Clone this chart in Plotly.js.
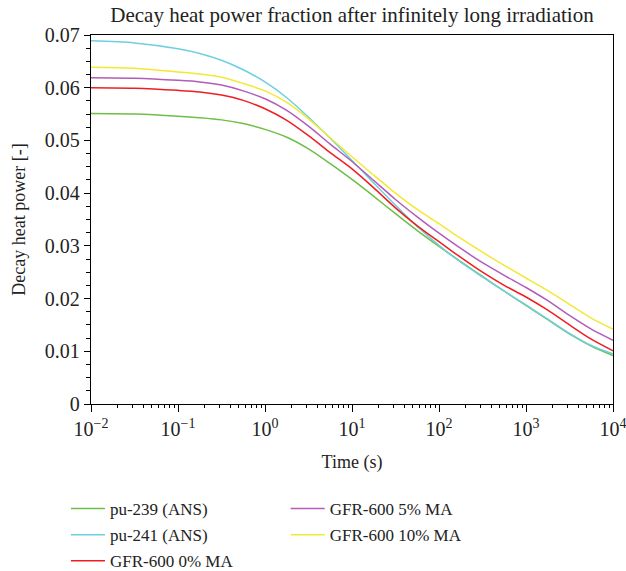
<!DOCTYPE html>
<html>
<head>
<meta charset="utf-8">
<script src="https://cdn.plot.ly/plotly-3.0.1.min.js"></script>
<style>html,body{margin:0;padding:0;background:#fff;}#chart{width:626px;height:571px;}</style>
</head>
<body>
<div id="chart"></div>
<script>
// Time after shutdown (s)
const time = [0.01, 0.0316, 0.1, 0.178, 0.316, 0.562, 1, 1.78, 3.16, 5.62, 10, 17.8, 31.6, 56.2, 100, 178, 316, 562, 1000, 1780, 3160, 5620, 10000];
// Decay heat power fraction [-]
const pu239 = [0.0551, 0.0550, 0.0546, 0.0543, 0.0539, 0.0532, 0.0521, 0.0506, 0.0484, 0.0456, 0.0426, 0.0394, 0.0361, 0.0329, 0.0299, 0.0270, 0.0242, 0.0214, 0.0187, 0.0160, 0.0133, 0.0110, 0.0092];
const pu241 = [0.0689, 0.0685, 0.0674, 0.0665, 0.0652, 0.0634, 0.0611, 0.0581, 0.0544, 0.0504, 0.0462, 0.0419, 0.0377, 0.0337, 0.0301, 0.0269, 0.0241, 0.0214, 0.0188, 0.0161, 0.0134, 0.0111, 0.0095];
const gfr0 = [0.0600, 0.0599, 0.0595, 0.0592, 0.0586, 0.0576, 0.0560, 0.0538, 0.0509, 0.0477, 0.0446, 0.0410, 0.0372, 0.0338, 0.0308, 0.0278, 0.0250, 0.0225, 0.0203, 0.0178, 0.0150, 0.0123, 0.0101];
const gfr5 = [0.0619, 0.0618, 0.0614, 0.0611, 0.0605, 0.0594, 0.0579, 0.0557, 0.0527, 0.0493, 0.0460, 0.0424, 0.0388, 0.0355, 0.0324, 0.0295, 0.0268, 0.0244, 0.0221, 0.0196, 0.0168, 0.0142, 0.0121];
const gfr10 = [0.0639, 0.0637, 0.0630, 0.0626, 0.0620, 0.0608, 0.0594, 0.0572, 0.0541, 0.0505, 0.0469, 0.0434, 0.0400, 0.0369, 0.0342, 0.0314, 0.0288, 0.0263, 0.0239, 0.0215, 0.0189, 0.0163, 0.0142];
const seriesNames = ["pu-239 (ANS)", "pu-241 (ANS)", "GFR-600 0% MA", "GFR-600 5% MA", "GFR-600 10% MA"];
const xTickVals = [0.01, 0.1, 1, 10, 100, 1000, 10000];
const xTickText = ["10<sup>\u22122</sup>", "10<sup>\u22121</sup>", "10<sup>0</sup>", "10<sup>1</sup>", "10<sup>2</sup>", "10<sup>3</sup>", "10<sup>4</sup>"];

const colors = ["#6dbf45", "#6dcfe0", "#f01e23", "#b35cb8", "#f2e934"];
const seriesData = [pu239, pu241, gfr0, gfr5, gfr10];
const legendIds = ["legend", "legend", "legend", "legend2", "legend2"];
const FONT = "Liberation Serif, Times New Roman, serif";

const traces = seriesData.map((y, i) => ({
  x: time, y: y, type: "scatter", mode: "lines", name: seriesNames[i],
  line: {color: colors[i], width: 1.5, shape: "spline", smoothing: 0.8},
  legend: legendIds[i], legendgroup: "g" + i
}));

const legendCommon = {
  orientation: "v", xanchor: "left", yanchor: "top", yref: "container",
  font: {family: FONT, size: 17, color: "#222"}, bgcolor: "rgba(0,0,0,0)",
  tracegroupgap: 1, itemwidth: 34
};

const layout = {
  width: 626, height: 571,
  margin: {l: 91, r: 13, t: 35, b: 167},
  paper_bgcolor: "#fff", plot_bgcolor: "#fff",
  font: {family: FONT, size: 17, color: "#222"},
  title: {text: "Decay heat power fraction after infinitely long irradiation",
          font: {family: FONT, size: 21, color: "#222"},
          xref: "paper", x: 0.5, xanchor: "center", yref: "container", y: 0.974, yanchor: "middle"},
  xaxis: {
    type: "log", range: [-2, 4], tickvals: xTickVals, ticktext: xTickText, ticklabeloverflow: "allow",
    showline: true, linecolor: "#000", linewidth: 1.3, mirror: true,
    ticks: "outside", ticklen: 7, tickcolor: "#000", tickwidth: 1,
    minor: {ticks: "outside", ticklen: 3, tickcolor: "#000", dtick: "D1", showgrid: false},
    showgrid: false, zeroline: false,
    tickfont: {family: FONT, size: 20, color: "#222"},
    title: {text: "Time (s)", font: {family: FONT, size: 18, color: "#222"}, standoff: 16}
  },
  yaxis: {
    range: [0, 0.07], dtick: 0.01, tickformat: ".2~f",
    showline: true, linecolor: "#000", linewidth: 1.3, mirror: true,
    ticks: "outside", ticklen: 6, tickcolor: "#000", tickwidth: 1,
    minor: {ticks: "outside", ticklen: 4, tickcolor: "#000", dtick: 0.0025, showgrid: false},
    showgrid: false, zeroline: false,
    tickfont: {family: FONT, size: 20, color: "#222"},
    title: {text: "Decay heat power [-]", font: {family: FONT, size: 18, color: "#222"}, standoff: 14}
  },
  legend: Object.assign({}, legendCommon, {x: -0.048, y: 1 - 491 / 571}),
  legend2: Object.assign({}, legendCommon, {x: 0.373, y: 1 - 491 / 571}),
  showlegend: true
};

Plotly.newPlot("chart", traces, layout, {displayModeBar: false, staticPlot: true});
</script>
</body>
</html>
